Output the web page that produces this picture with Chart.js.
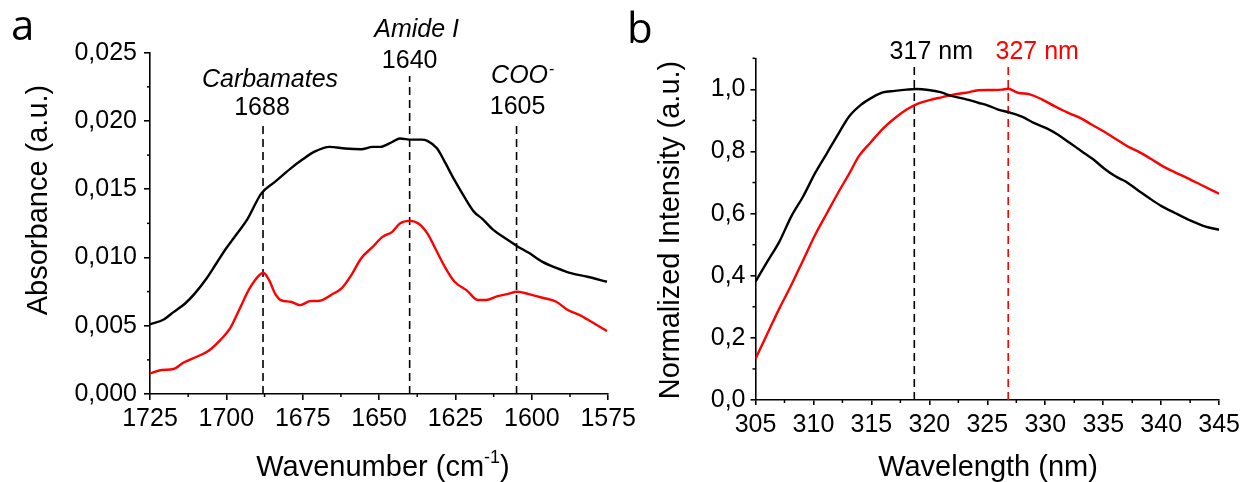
<!DOCTYPE html>
<html>
<head>
<meta charset="utf-8">
<script src="https://cdn.jsdelivr.net/npm/chart.js@4.4.1/dist/chart.umd.min.js"></script>
<style>
  body { margin: 0; background: #fff; width: 1245px; height: 482px; position: relative; overflow: hidden; }
  canvas { position: absolute; top: 0; }
  #chartA { left: 0; }
  #chartB { left: 620px; }
</style>
</head>
<body>
<canvas id="chartA" width="640" height="482"></canvas>
<canvas id="chartB" width="625" height="482"></canvas>
<script>
// ---- panel a : FTIR absorbance ----
const waveBlack = [1725, 1720.5, 1717.3, 1713.5, 1710.3, 1706.5, 1703.3, 1700.1, 1696.9, 1693.0,
  1688.6, 1684.1, 1679.0, 1675.1, 1671.3, 1666.2, 1661.1, 1655.9, 1652.1, 1649.6,
  1645.7, 1643.2, 1639.3, 1636.1, 1634.2, 1631.0, 1628.5, 1625.3, 1622.1, 1618.9,
  1616.3, 1612.5, 1608.6, 1604.8, 1601.0, 1596.5, 1592.0, 1586.9, 1581.8, 1575.4];
const absBlack = [0.0051, 0.00546, 0.0060, 0.00663, 0.00737, 0.00846, 0.00956, 0.01066, 0.01163, 0.01285,
  0.01468, 0.01554, 0.01651, 0.01717, 0.01773, 0.0181, 0.01798, 0.01793, 0.0181, 0.0181,
  0.01846, 0.01871, 0.01863, 0.01863, 0.01854, 0.01798, 0.0170, 0.01566, 0.01444, 0.01334,
  0.01285, 0.0120, 0.01139, 0.01083, 0.01034, 0.00968, 0.00924, 0.00883, 0.00859, 0.00822];
const waveRed = [1725, 1721.2, 1717.3, 1714.1, 1709.7, 1705.8, 1702.0, 1698.8, 1695.6, 1692.4,
  1689.2, 1687.9, 1686.0, 1684.1, 1682.2, 1679.0, 1675.8, 1672.6, 1669.4, 1665.5,
  1662.3, 1659.1, 1655.9, 1652.1, 1648.9, 1645.7, 1643.2, 1639.9, 1636.8, 1634.2,
  1631.6, 1628.5, 1625.3, 1621.4, 1617.6, 1615.0, 1611.2, 1608.0, 1604.8, 1601.0,
  1596.5, 1592.0, 1588.2, 1584.3, 1580.5, 1575.4];
const absRed = [0.00151, 0.00176, 0.00183, 0.00229, 0.00273, 0.00317, 0.00395, 0.0048, 0.00627, 0.00773,
  0.00871, 0.00888, 0.00834, 0.00737, 0.00688, 0.00676, 0.00651, 0.0068, 0.00683, 0.00729,
  0.00773, 0.00871, 0.00993, 0.01078, 0.01151, 0.01188, 0.01249, 0.01268, 0.01244, 0.01176,
  0.01066, 0.00932, 0.00822, 0.00761, 0.00688, 0.00688, 0.00717, 0.00732, 0.00749, 0.00732,
  0.00705, 0.00676, 0.00615, 0.00578, 0.00529, 0.00461];
const absXTicks = [1725, 1700, 1675, 1650, 1625, 1600, 1575];
const absXMinor = [1712.5, 1687.5, 1662.5, 1637.5, 1612.5, 1587.5];
const absYTicks = [0, 0.005, 0.010, 0.015, 0.020, 0.025];
const absYMinor = [0.0025, 0.0075, 0.0125, 0.0175, 0.0225];
const bandPos = [1688, 1640, 1605];
const bandTop = [0.0199, 0.0233, 0.0199];

// ---- panel b : fluorescence ----
const wlBlack = [305, 306.03, 307.06, 308.09, 309.12, 310.15, 311.17, 312.2, 313.06, 314.09,
  315.12, 315.98, 317.01, 318.04, 318.9, 319.92, 320.95, 321.98, 323.18, 324.21,
  325.07, 325.93, 326.96, 327.98, 329.01, 330.04, 331.07, 332.1, 333.13, 334.16,
  335.02, 336.05, 336.9, 337.93, 338.96, 339.99, 341.19, 342.39, 343.76, 345];
const intBlack = [0.381, 0.446, 0.510, 0.591, 0.656, 0.731, 0.795, 0.860, 0.912, 0.950,
  0.975, 0.990, 0.995, 0.999, 1.001, 0.998, 0.991, 0.978, 0.968, 0.957,
  0.948, 0.935, 0.925, 0.912, 0.892, 0.876, 0.855, 0.828, 0.801, 0.774,
  0.747, 0.72, 0.704, 0.677, 0.65, 0.625, 0.602, 0.58, 0.559, 0.548];
const wlRed = [305, 306.03, 307.06, 308.09, 309.12, 310.15, 311.17, 312.2, 313.06, 313.92,
  314.95, 315.98, 317.01, 318.04, 319.07, 320.09, 321.12, 322.15, 323.18, 324.21,
  325.24, 326.27, 326.78, 327.64, 328.67, 329.7, 330.9, 331.93, 332.96, 333.99,
  335.02, 336.05, 337.08, 338.11, 339.13, 340.16, 341.19, 342.22, 343.42, 345];
const intRed = [0.133, 0.214, 0.295, 0.37, 0.451, 0.532, 0.602, 0.672, 0.727, 0.785,
  0.830, 0.873, 0.907, 0.935, 0.955, 0.966, 0.975, 0.984, 0.989, 0.997,
  0.998, 0.999, 1.002, 0.989, 0.984, 0.968, 0.944, 0.925, 0.909, 0.887,
  0.865, 0.841, 0.817, 0.798, 0.776, 0.752, 0.733, 0.715, 0.693, 0.664];
const flXTicks = [305, 310, 315, 320, 325, 330, 335, 340, 345];
const flXMinor = [307.5, 312.5, 317.5, 322.5, 327.5, 332.5, 337.5, 342.5];
const flYTicks = [0, 0.2, 0.4, 0.6, 0.8, 1.0];
const flYMinor = [0.1, 0.3, 0.5, 0.7, 0.9, 1.1];
const peakPos = [318.7, 326.8];
const peakTop = [1.075, 1.075];
const peakLabel = ['317 nm', '327 nm'];

const FONT = '"Liberation Sans", Arial, sans-serif';

function pts(xs, ys) {
  return xs.map((x, i) => ({ x: x, y: ys[i] }));
}

function curve(xs, ys, color) {
  return { data: pts(xs, ys), showLine: true, borderColor: color, borderWidth: 2.4,
    pointRadius: 0, tension: 0.4, cubicInterpolationMode: 'monotone', order: 1 };
}

function marker(x, top, color) {
  return { data: [{ x: x, y: 0 }, { x: x, y: top }], showLine: true, borderColor: color,
    borderWidth: 1.6, borderDash: [8, 5], pointRadius: 0, order: 2 };
}

function axis(ticks, fmt, tickLen, pad, extra) {
  return Object.assign({
    type: 'linear',
    afterBuildTicks: s => { s.ticks = ticks.map(v => ({ value: v })); },
    border: { display: true, color: '#000', width: 1.6 },
    grid: { display: true, drawOnChartArea: false, drawTicks: true, tickLength: tickLen,
      color: '#000', tickColor: '#000', lineWidth: 1.6 },
    ticks: { color: '#000', font: { family: FONT, size: 25 }, padding: pad,
      autoSkip: false, maxRotation: 0, callback: fmt }
  }, extra);
}

// minor ticks, titles and annotation text
const decor = {
  id: 'decor',
  afterDraw(chart, args, o) {
    const ctx = chart.ctx, ca = chart.chartArea;
    const xs = chart.scales.x, ys = chart.scales.y;
    ctx.save();
    ctx.strokeStyle = '#000';
    ctx.lineWidth = 1.5;
    o.minorX.forEach(v => {
      const p = xs.getPixelForValue(v);
      ctx.beginPath(); ctx.moveTo(p, ca.bottom); ctx.lineTo(p, ca.bottom + 3); ctx.stroke();
    });
    o.minorY.forEach(v => {
      const p = ys.getPixelForValue(v);
      ctx.beginPath(); ctx.moveTo(ca.left, p); ctx.lineTo(ca.left - 3, p); ctx.stroke();
    });
    ctx.textBaseline = 'alphabetic';
    o.labels.forEach(t => {
      ctx.font = t.font;
      ctx.fillStyle = t.color || '#000';
      ctx.textAlign = t.align || 'center';
      const x = t.at !== undefined ? xs.getPixelForValue(t.at) + (t.dx || 0) : t.x;
      ctx.fillText(t.text, x, t.y);
      if (t.sup) {
        const w = ctx.measureText(t.text).width;
        ctx.font = '16px ' + FONT;
        ctx.textAlign = 'left';
        ctx.fillText(t.sup, x + w / 2 + 1, t.y - 9);
      }
    });
    // x title, with optional superscript
    const xt = o.xTitle;
    ctx.fillStyle = '#000';
    ctx.textAlign = 'left';
    ctx.font = '29px ' + FONT;
    const w1 = ctx.measureText(xt.main).width;
    const w3 = ctx.measureText(xt.tail || '').width;
    ctx.font = '18px ' + FONT;
    const w2 = xt.sup ? ctx.measureText(xt.sup).width : 0;
    const x0 = xt.x - (w1 + w2 + w3) / 2;
    ctx.font = '29px ' + FONT;
    ctx.fillText(xt.main, x0, xt.y);
    if (xt.sup) {
      ctx.font = '18px ' + FONT;
      ctx.fillText(xt.sup, x0 + w1, xt.y - 13);
      ctx.font = '29px ' + FONT;
      ctx.fillText(xt.tail, x0 + w1 + w2, xt.y);
    }
    // y title
    ctx.save();
    ctx.translate(o.yTitle.x, o.yTitle.y);
    ctx.rotate(-Math.PI / 2);
    ctx.textAlign = 'center';
    ctx.textBaseline = 'middle';
    ctx.font = '29px ' + FONT;
    ctx.fillText(o.yTitle.text, 0, 0);
    ctx.restore();
    // panel letter
    ctx.font = '42px "Open Sans", ' + FONT;
    ctx.textAlign = 'left';
    ctx.fillText(o.letter.text, o.letter.x, o.letter.y);
    ctx.restore();
  }
};

const comma = d => v => v.toFixed(d).replace('.', ',');

new Chart(document.getElementById('chartA'), {
  type: 'scatter',
  data: {
    datasets: [
      curve(waveBlack, absBlack, '#000'),
      curve(waveRed, absRed, '#ff0000'),
      ...bandPos.map((p, i) => marker(p, bandTop[i], '#000'))
    ]
  },
  options: {
    responsive: false,
    animation: false,
    layout: { padding: { left: 0, top: 52.7, right: 25, bottom: 0 } },
    scales: {
      x: axis(absXTicks, v => String(v), 6, 4, { min: 1575, max: 1725, reverse: true,
        afterFit: s => { s.height = 88; } }),
      y: axis(absYTicks, comma(3), 6, 7, { min: 0, max: 0.025,
        afterFit: s => { s.width = 150; } })
    },
    plugins: {
      legend: { display: false },
      tooltip: { enabled: false },
      decor: {
        minorX: absXMinor,
        minorY: absYMinor,
        labels: [
          { text: 'Carbamates', at: bandPos[0], dx: 7, y: 87, font: 'italic 25px ' + FONT },
          { text: '1688', at: bandPos[0], dx: -1, y: 115, font: '25px ' + FONT },
          { text: 'Amide I', at: bandPos[1], dx: 7, y: 37, font: 'italic 25px ' + FONT },
          { text: '1640', at: bandPos[1], dx: 0, y: 68, font: '25px ' + FONT },
          { text: 'COO', sup: '-', at: bandPos[2], dx: 3, y: 83, font: 'italic 25px ' + FONT },
          { text: '1605', at: bandPos[2], dx: 1, y: 114, font: '25px ' + FONT }
        ],
        xTitle: { main: 'Wavenumber (cm', sup: '-1', tail: ')', x: 383, y: 476 },
        yTitle: { text: 'Absorbance (a.u.)', x: 39, y: 200 },
        letter: { text: 'a', x: 11, y: 40 }
      }
    }
  },
  plugins: [decor]
});

new Chart(document.getElementById('chartB'), {
  type: 'scatter',
  data: {
    datasets: [
      curve(wlBlack, intBlack, '#000'),
      curve(wlRed, intRed, '#ff0000'),
      marker(peakPos[0], peakTop[0], '#000'),
      marker(peakPos[1], peakTop[1], '#ff0000')
    ]
  },
  options: {
    responsive: false,
    animation: false,
    layout: { padding: { left: 0, top: 58.3, right: 24.7, bottom: 0 } },
    scales: {
      x: axis(flXTicks, v => String(v), 5, 5, { min: 305, max: 345,
        afterFit: s => { s.height = 82; } }),
      y: axis(flYTicks, comma(1), 5, 5, { min: 0, max: 1.1,
        afterFit: s => { s.width = 135.5; } })
    },
    plugins: {
      legend: { display: false },
      tooltip: { enabled: false },
      decor: {
        minorX: flXMinor,
        minorY: flYMinor,
        labels: [
          { text: peakLabel[0], at: peakPos[0], dx: 17, y: 59, font: '25px ' + FONT },
          { text: peakLabel[1], at: peakPos[1], dx: 29, y: 59, font: '25px ' + FONT, color: '#ff0000' }
        ],
        xTitle: { main: 'Wavelength (nm)', x: 368, y: 476 },
        yTitle: { text: 'Normalized Intensity (a.u.)', x: 51, y: 230 },
        letter: { text: 'b', x: 7, y: 43 }
      }
    }
  },
  plugins: [decor]
});
</script>
</body>
</html>
